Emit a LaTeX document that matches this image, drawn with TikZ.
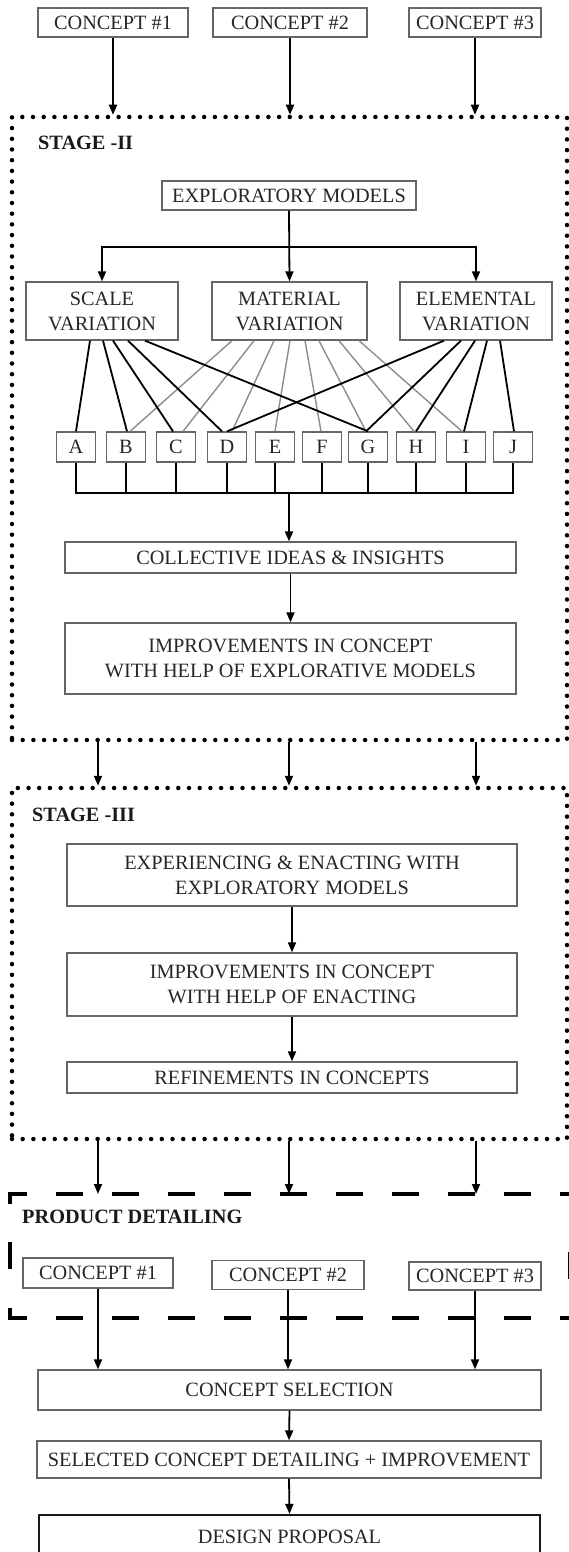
\documentclass[tikz,border=0pt]{standalone}
\usepackage{fontspec}
\setmainfont{Liberation Serif}
\usetikzlibrary{arrows.meta,positioning}

\newcommand{\boxfont}{\fontsize{20.3}{25}\selectfont}

\begin{document}
\begin{tikzpicture}[x=1pt,y=-1pt,
  box/.style={draw=black!60,line width=1.3pt,text=black!85,font=\boxfont,align=center,inner sep=0pt},
  letterbox/.style={box,minimum width=39pt,minimum height=30pt},
  stagelabel/.style={font=\boxfont\bfseries,text=black!90,anchor=west,inner sep=0pt},
  flow/.style={draw,line width=1.8pt,-{Triangle[length=10pt,width=8pt]}},
  link/.style={draw,line width=1.8pt},
  greylink/.style={draw,line width=1.4pt,black!45},
  dotframe/.style={draw,line width=4.5pt,line cap=round,dash pattern=on 0pt off 10.7pt,inner sep=0pt},
  dashframe/.style={draw,line width=3.5pt,dash pattern=on 27pt off 29pt}]
\path[use as bounding box,clip] (0,0) rectangle (569,1552);

% stage frames
\node[dotframe,minimum width=555pt,minimum height=623pt] (stageII) at (289.5,428.5) {};
\node[dotframe,minimum width=555pt,minimum height=351pt] (stageIII) at (289.5,963.5) {};
\node[stagelabel] (labII) at (38,143) {STAGE -II};
\node[stagelabel] (labIII) at (32,815) {STAGE -III};
\node[stagelabel] (labPD) at (22,1217) {PRODUCT DETAILING};

\foreach \pos/\name/\w/\h/\disp in {{(113,22.5)/ca/150/29/CONCEPT \#1}, {(290,22.5)/cb/154/29/CONCEPT \#2}, {(475,22.5)/cc/132/29/CONCEPT \#3},
  {(289,195.5)/explore/254/29/EXPLORATORY MODELS},
  {(102,311)/scale/152/58/SCALE\\VARIATION}, {(289.5,311)/material/155/58/MATERIAL\\VARIATION}, {(476,311)/elemental/152/58/ELEMENTAL\\VARIATION},
  {(290.5,557.5)/collect/451/31/COLLECTIVE IDEAS \& INSIGHTS},
  {(290.5,658.5)/improveA/451/71/IMPROVEMENTS IN CONCEPT\\WITH HELP OF EXPLORATIVE MODELS},
  {(292,875)/enact/450/62/EXPERIENCING \& ENACTING WITH\\EXPLORATORY MODELS},
  {(292,984.5)/improveB/450/63/IMPROVEMENTS IN CONCEPT\\WITH HELP OF ENACTING},
  {(292,1077.5)/refine/450/31/REFINEMENTS IN CONCEPTS},
  {(98,1273)/pa/150/30/CONCEPT \#1}, {(288,1275)/pb/152/29/CONCEPT \#2}, {(475,1276)/pc/132/28/CONCEPT \#3},
  {(289.5,1390)/select/503/40/CONCEPT SELECTION},
  {(289,1459.5)/detail/504/37/SELECTED CONCEPT DETAILING + IMPROVEMENT}}
\node[box,minimum width=\w pt,minimum height=\h pt] (\name) at \pos {\disp};
\node[box,draw=black!90,line width=2.2pt,minimum width=501pt,minimum height=44pt] (proposal) at (289.5,1537) {DESIGN PROPOSAL};

\foreach \x/\name in {76/A,126/B,176/C,227/D,275/E,322/F,368/G,416/H,466/I,513/J}
\node[letterbox] (\name) at (\x,447) {\name};

% product detailing frame
\draw[dashframe] (10,1204) -- (10,1194) -- (575,1194);
\draw[dashframe] (10,1308) -- (10,1318) -- (575,1318);
\draw[dashframe] (10,1242) -- (10,1270);
\draw[dashframe] (570,1252) -- (570,1280);

\coordinate (lane1) at (98,0);
\coordinate (lane2) at (289,0);
\coordinate (lane3) at (476,0);
\coordinate (prodtop) at (0,1194);
\coordinate (split) at (289,247);
\coordinate (bus) at (289,493);

% into stage II
\foreach \c in {ca,cb,cc}
\draw[flow] (\c.south) -- (\c.south |- stageII.north);
\draw[flow] (explore.south) -- (material.north);
\draw[flow] (split) -| (scale.north);
\draw[flow] (split) -| (elemental.north);

% variations to models
\foreach \dx/\dest/\ex in {-57.5/B/4, -35.5/C/7, -15.5/D/5, 0.5/E/0, 15.5/F/-1, 29.5/G/-2, 49.5/H/-2, 69.5/I/-4}
\draw[greylink] ([xshift=\dx pt]material.south) -- ([xshift=\ex pt]\dest.north);
\foreach \dx/\dest/\ex in {-12/A/0, 1/B/1, 11/C/-3, 26/D/-5, 43/G/0}
\draw[link] ([xshift=\dx pt]scale.south) -- ([xshift=\ex pt]\dest.north);
\foreach \dx/\dest/\ex in {-32/D/0, -15/G/-2, -1/H/0, 11/I/-2, 24/J/1}
\draw[link] ([xshift=\dx pt]elemental.south) -- ([xshift=\ex pt]\dest.north);

% collect the models
\draw[link] (A.south) |- (bus) -| (J.south);
\foreach \name in {B,C,D,E,F,G,H,I}
\draw[link] (\name.south) -- (\name.south |- bus);
\draw[flow] (bus) -- (bus |- collect.north);
\draw[flow] (collect.south) -- (improveA.north);

% stage III and detailing
\foreach \l in {lane1,lane2,lane3} {
\draw[flow] (stageII.south -| \l) -- (stageIII.north -| \l);
\draw[flow] (stageIII.south -| \l) -- (prodtop -| \l);
}
\draw[flow] (enact.south) -- (improveB.north);
\draw[flow] (improveB.south) -- (refine.north);
\foreach \c in {pa,pb,pc}
\draw[flow] (\c.south) -- (\c.south |- select.north);
\draw[flow] (select.south) -- (detail.north);
\draw[flow] (detail.south) -- (proposal.north);

\end{tikzpicture}
\end{document}
